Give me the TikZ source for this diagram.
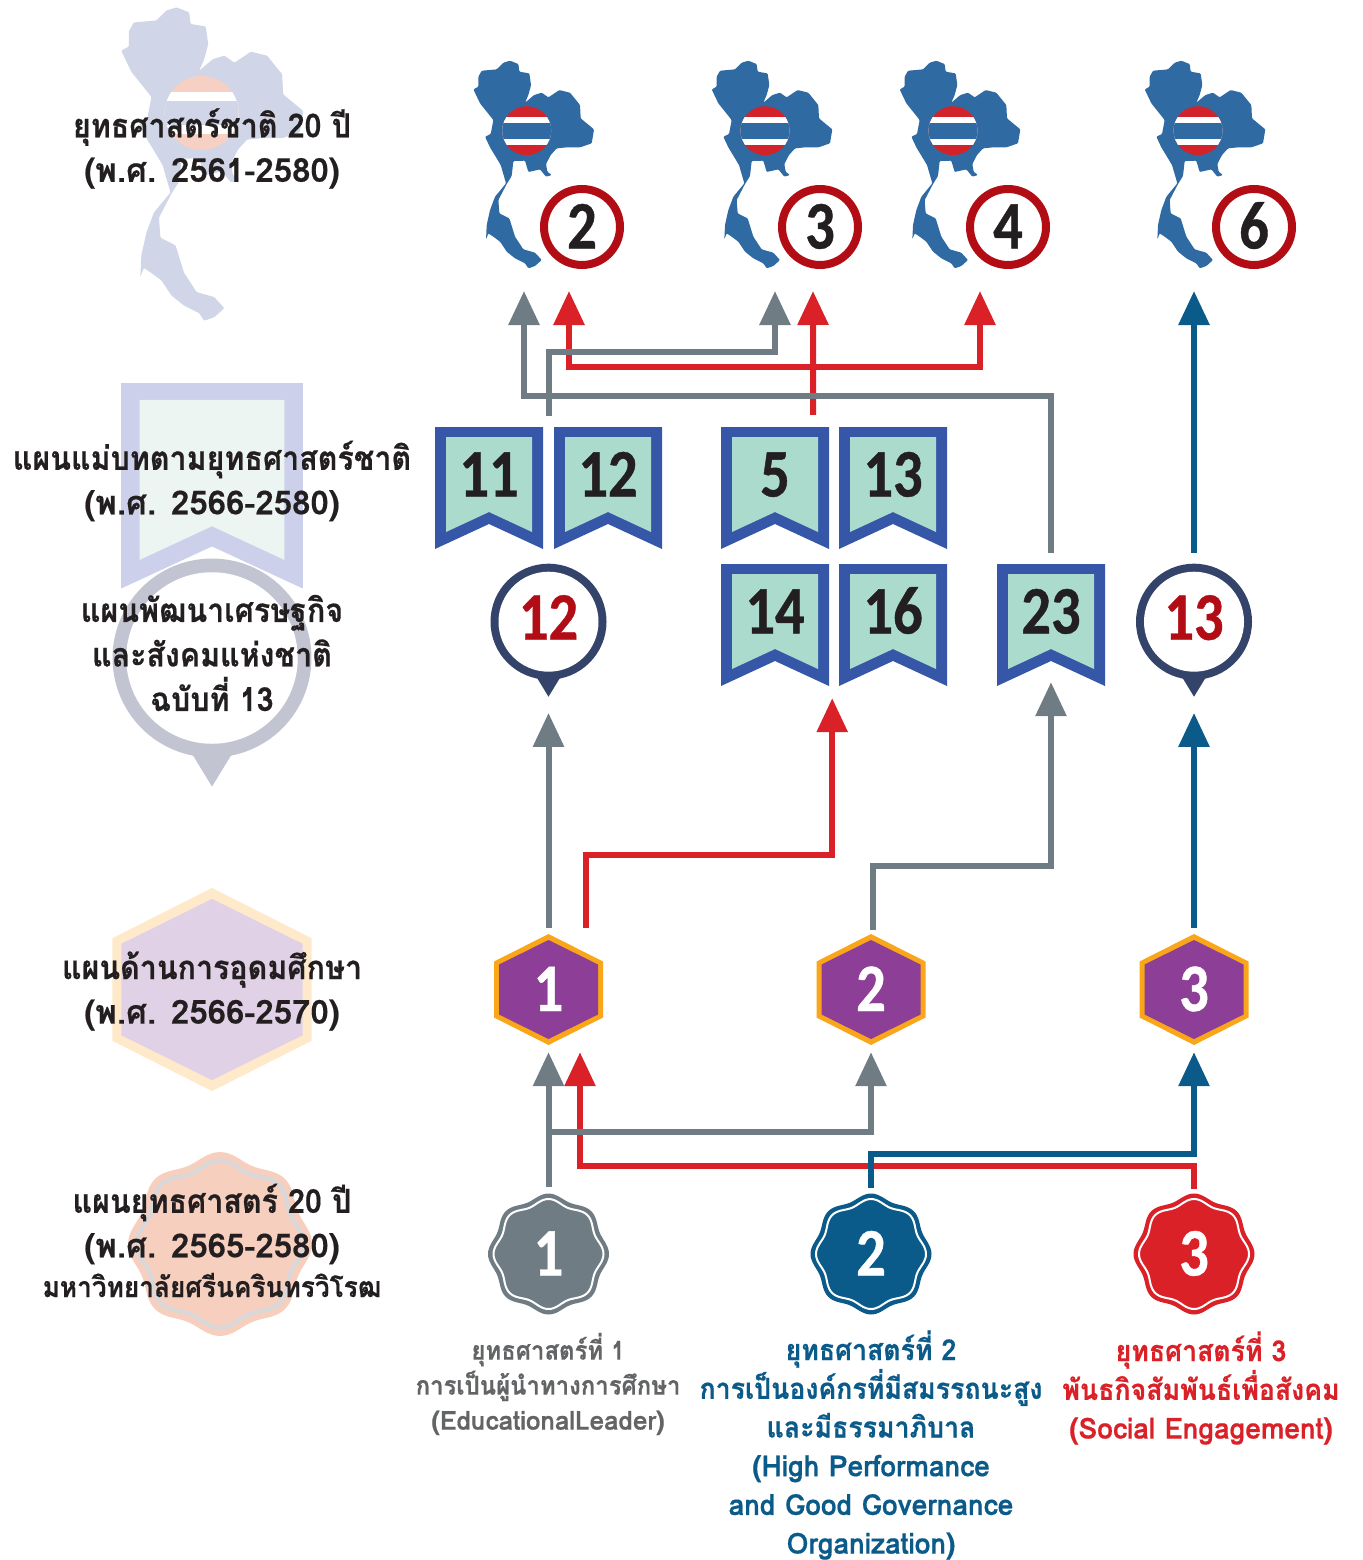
\documentclass[tikz,border=0pt]{standalone}
\usepackage{fontspec}
\setmainfont[Script=Thai,FakeStretch=0.92,BoldFeatures={FakeBold=0.5}]{Loma}
\newfontfamily\yearfont[Script=Thai,BoldFeatures={FakeBold=0.5}]{Loma}
\newfontfamily\latinfont[Script=Thai,FakeStretch=0.97,BoldFeatures={FakeBold=0.5}]{Loma}
\newfontfamily\numfont[FakeStretch=0.86,BoldFeatures={FakeBold=0.6}]{Carlito}
\usetikzlibrary{arrows.meta}
\definecolor{mapblue}{HTML}{2F6AA3}
\definecolor{flagred}{HTML}{D2232A}
\definecolor{ringred}{HTML}{B20D14}
\definecolor{bookblue}{HTML}{3657A7}
\definecolor{bookgreen}{HTML}{AADBCC}
\definecolor{pinblue}{HTML}{34436A}
\definecolor{hexpurple}{HTML}{8D3E96}
\definecolor{hexorange}{HTML}{F9A61A}
\definecolor{linegray}{HTML}{6F7C84}
\definecolor{linered}{HTML}{DB2128}
\definecolor{lineblue}{HTML}{0A5A8A}
\definecolor{inkblack}{HTML}{231F20}
\definecolor{inkgray}{HTML}{636466}
\definecolor{bgmap}{HTML}{D0D6E7}
\definecolor{bgflag}{HTML}{F5D0C3}
\definecolor{bgbook}{HTML}{CCD0EA}
\definecolor{bgpaper}{HTML}{EDF5F2}
\definecolor{bgpin}{HTML}{C3C4D2}
\definecolor{bghexout}{HTML}{FEE9CB}
\definecolor{bghex}{HTML}{E0D1E6}
\definecolor{bgseal}{HTML}{F6CFBE}
\definecolor{bgsealline}{HTML}{D8D8DA}
\tikzset{
  pics/thaimap/.style n args={3}{code={
    \begin{scope}[shift={(-200,-272)}]
      \fill[#1,rounded corners=1pt] (150,62) -- (175,72) -- (178,95) -- (208,100) -- (213,135) -- (205,165) -- (195,188) -- (222,165) -- (245,158) -- (265,172) -- (298,150) -- (330,158) -- (360,195) -- (362,235) -- (402,268) -- (395,310) -- (360,322) -- (320,322) -- (290,325) -- (272,345) -- (258,372) -- (262,395) -- (275,405) -- (258,410) -- (240,388) -- (205,396) -- (195,362) -- (160,363) -- (155,408) -- (140,432) -- (115,480) -- (118,520) -- (148,535) -- (165,590) -- (190,628) -- (225,638) -- (245,660) -- (225,678) -- (205,685) -- (195,670) -- (165,655) -- (140,635) -- (120,605) -- (100,590) -- (85,580) -- (78,598) -- (80,555) -- (90,510) -- (105,470) -- (138,430) -- (122,375) -- (90,322) -- (75,290) -- (92,282) -- (100,240) -- (60,190) -- (40,148) -- (55,140) -- (55,110) -- (65,92) -- (110,88) -- (130,68) -- cycle;
      \begin{scope}
        \clip (200,272) circle (73.5);
        \fill[#2] (100,190) rectangle (300,354);
        \fill[#3] (100,230) rectangle (300,314);
        \fill[#1] (100,248) rectangle (300,296);
      \end{scope}
    \end{scope}
  }},
  pics/bookmark/.style n args={2}{code={
    \fill[#1] (-54,0) -- (54,0) -- (54,122) -- (0,97) -- (-54,122) -- cycle;
    \fill[#2] (-43,10) -- (43,10) -- (43,105) -- (0,85) -- (-43,105) -- cycle;
  }},
  pics/pinring/.style={code={
    \fill[#1] (-12.5,54.5) -- (12.5,54.5) -- (0,75) -- cycle;
    \fill[#1] (0,0) circle (58);
    \fill[white] (0,0) circle (50);
  }},
  pics/hexa/.style n args={2}{code={
    \fill[#1] (0,-55.5) -- (54.5,-28) -- (54.5,28) -- (0,55.5) -- (-54.5,28) -- (-54.5,-28) -- cycle;
    \fill[#2] (0,-49.5) -- (49.5,-25) -- (49.5,25) -- (0,49.5) -- (-49.5,25) -- (-49.5,-25) -- cycle;
  }},
  pics/seal/.style n args={3}{code={
    \fill[#1] plot[domain=0:360,samples=145] (\x:{58+2.5*cos(8*\x)}) -- cycle;
    \draw[#2,line width=#3] plot[domain=0:360,samples=145] (\x:{52.5+2.5*cos(8*\x)}) -- cycle;
  }},
  ringnum/.style={circle,draw=ringred,line width=8pt,minimum size=76pt,inner sep=0pt,font=\numfont\bfseries\fontsize{68}{68}\selectfont,text=inkblack,text height=43pt,text depth=0pt},
  booknum/.style={minimum width=108pt,minimum height=122pt,inner sep=0pt,font=\numfont\bfseries\fontsize{68}{68}\selectfont,text=inkblack,text height=43pt,text depth=26pt},
  pinnum/.style={circle,minimum size=116pt,inner sep=0pt,font=\numfont\bfseries\fontsize{68}{68}\selectfont,text=ringred,text height=43pt,text depth=7pt},
  hexnum/.style={minimum width=109pt,minimum height=111pt,inner sep=0pt,font=\numfont\bfseries\fontsize{68}{68}\selectfont,text=white,text height=43pt,text depth=0pt},
  sealnum/.style={circle,minimum size=121pt,inner sep=0pt,font=\numfont\bfseries\fontsize{68}{68}\selectfont,text=white,text height=43pt,text depth=0pt},
  leftlabel/.style={align=center,inner sep=0pt,text=inkblack,font=\bfseries\fontsize{33}{44.5}\selectfont},
  graylabel/.style={align=center,inner sep=0pt,text=inkgray,font=\bfseries\fontsize{26}{35}\selectfont},
  bluelabel/.style={align=center,inner sep=0pt,text=lineblue,font=\bfseries\fontsize{29}{38.7}\selectfont},
  redlabel/.style={align=center,inner sep=0pt,text=linered,font=\bfseries\fontsize{29}{38.7}\selectfont},
  arrowline/.style={line width=6pt,-{Triangle[length=34pt,width=30pt]}},
  bothline/.style={line width=6pt,{Triangle[length=34pt,width=30pt]}-{Triangle[length=34pt,width=30pt]}}
}
\begin{document}
\begin{tikzpicture}[x=1pt,y=-1pt]
  \useasboundingbox (0,0) rectangle (1362,1560);
  \pic[scale=0.503] at (201.7,113) {thaimap={bgmap}{bgflag}{white}};
  \pic[scale=1.685] at (212,383) {bookmark={bgbook}{bgpaper}};
  \pic[scale=1.715] at (212,658) {pinring=bgpin};
  \pic[scale=1.83] at (212,989.5) {hexa={bghexout}{bghex}};
  \pic[scale=1.52] at (220,1244) {seal={bgseal}{bgsealline}{4pt}};
  \node[leftlabel] (lab1) at (212,148.5) {ยุทธศาสตร์ชาติ 20 ปี\\{\yearfont (พ.ศ. 2561-2580)}};
  \node[leftlabel] (lab2) at (212,481) {แผนแม่บทตามยุทธศาสตร์ชาติ\\{\yearfont (พ.ศ. 2566-2580)}};
  \node[leftlabel] (lab3) at (212,653) {แผนพัฒนาเศรษฐกิจ\\และสังคมแห่งชาติ\\ฉบับที่ 13};
  \node[leftlabel] (lab4) at (212,991) {แผนด้านการอุดมศึกษา\\{\yearfont (พ.ศ. 2566-2570)}};
  \node[leftlabel] (lab5) at (212,1224) {แผนยุทธศาสตร์ 20 ปี\\{\yearfont (พ.ศ. 2565-2580)}};
  \node[leftlabel,font=\bfseries\fontsize{28.5}{32}\selectfont] (lab6) at (212,1285) {มหาวิทยาลัยศรีนครินทรวิโรฒ};
  \pic[scale=0.3333] at (526.7,130.7) {thaimap={mapblue}{flagred}{white}};
  \pic[scale=0.3333] at (765,130.7) {thaimap={mapblue}{flagred}{white}};
  \pic[scale=0.3333] at (953,130.7) {thaimap={mapblue}{flagred}{white}};
  \pic[scale=0.3333] at (1198,130.7) {thaimap={mapblue}{flagred}{white}};
  \node[ringnum] (n2) at (582,227) {2};
  \node[ringnum] (n3) at (820,227) {3};
  \node[ringnum] (n4) at (1008,227) {4};
  \node[ringnum] (n6) at (1254,227) {6};
  \pic at (489,427) {bookmark={bookblue}{bookgreen}};
  \node[booknum] (m11) at (489,488) {11};
  \pic at (608,427) {bookmark={bookblue}{bookgreen}};
  \node[booknum] (m12) at (608,488) {12};
  \pic at (775,427) {bookmark={bookblue}{bookgreen}};
  \node[booknum] (m5) at (775,488) {5};
  \pic at (893,427) {bookmark={bookblue}{bookgreen}};
  \node[booknum] (m13) at (893,488) {13};
  \pic at (775,564) {bookmark={bookblue}{bookgreen}};
  \node[booknum] (m14) at (775,625) {14};
  \pic at (893,564) {bookmark={bookblue}{bookgreen}};
  \node[booknum] (m16) at (893,625) {16};
  \pic at (1051,564) {bookmark={bookblue}{bookgreen}};
  \node[booknum] (m23) at (1051,625) {23};
  \pic at (548.5,621.7) {pinring=pinblue};
  \node[pinnum] (p12) at (548.5,621.7) {12};
  \pic at (1194,621.7) {pinring=pinblue};
  \node[pinnum] (p13) at (1194,621.7) {13};
  \pic at (548.5,989.5) {hexa={hexorange}{hexpurple}};
  \node[hexnum] (h1) at (548.5,989.5) {1};
  \pic at (871,989.5) {hexa={hexorange}{hexpurple}};
  \node[hexnum] (h2) at (871,989.5) {2};
  \pic at (1194,989.5) {hexa={hexorange}{hexpurple}};
  \node[hexnum] (h3) at (1194,989.5) {3};
  \pic at (548.5,1254) {seal={linegray}{white}{2pt}};
  \node[sealnum] (s1) at (548.5,1254) {1};
  \pic at (871,1254) {seal={lineblue}{white}{2pt}};
  \node[sealnum] (s2) at (871,1254) {2};
  \pic at (1194,1254) {seal={linered}{white}{2pt}};
  \node[sealnum] (s3) at (1194,1254) {3};
  \node[graylabel] (t1) at (548,1384) {ยุทธศาสตร์ที่ 1\\การเป็นผู้นำทางการศึกษา\\{\yearfont (EducationalLeader)}};
  \node[bluelabel] (t2) at (871,1445) {ยุทธศาสตร์ที่ 2\\การเป็นองค์กรที่มีสมรรถนะสูง\\และมีธรรมาภิบาล\\{\latinfont (High Performance}\\{\latinfont and Good Governance}\\{\latinfont Organization)}};
  \node[redlabel] (t3) at (1201,1388) {ยุทธศาสตร์ที่ 3\\พันธกิจสัมพันธ์เพื่อสังคม\\{\latinfont (Social Engagement)}};
  \draw[arrowline,linered] ([yshift=4pt]s3.north) -- ++(0,-23) -| ([xshift=31.5pt,yshift=-7pt]h1.south);
  \draw[arrowline,linegray] ([yshift=6pt]s1.north) -- ([yshift=-7pt]h1.south);
  \draw[arrowline,linegray] ([yshift=61pt]s1.north) -| ([yshift=-7pt]h2.south);
  \draw[arrowline,lineblue] ([yshift=5pt]s2.north) -- ++(0,-34) -| ([yshift=-7pt]h3.south);
  \draw[arrowline,linegray] ([yshift=6pt]h1.north) -- ([yshift=-33pt]p12.south);
  \draw[arrowline,linered] ([xshift=37.5pt,yshift=6pt]h1.north) -- ++(0,-73) -| ([xshift=3pt,yshift=-12pt]m14.south east);
  \draw[arrowline,linegray] ([xshift=2pt,yshift=4pt]h2.north) -- ++(0,-64) -| ([yshift=4pt]m23.south);
  \draw[arrowline,lineblue] ([yshift=6pt]h3.north) -- ([yshift=-33pt]p13.south);
  \draw[arrowline,linered] ([xshift=-16pt,yshift=12pt]m5.north east) -- ([xshift=-7pt,yshift=-22pt]n3.south);
  \draw[bothline,linered] ([xshift=-13pt,yshift=-22pt]n2.south) -- ++(0,76) -| ([xshift=-28pt,yshift=-22pt]n4.south);
  \draw[arrowline,linegray] ([yshift=11pt]m23.north) -- ++(0,-157) -| ([xshift=-58pt,yshift=-22pt]n2.south);
  \draw[arrowline,linegray] ([xshift=5.5pt,yshift=11pt]m11.north east) -- ++(0,-64) -| ([xshift=-45pt,yshift=-22pt]n3.south);
  \draw[arrowline,lineblue] ([yshift=11pt]p13.north) -- ([xshift=-60pt,yshift=-22pt]n6.south);
\end{tikzpicture}
\end{document}
